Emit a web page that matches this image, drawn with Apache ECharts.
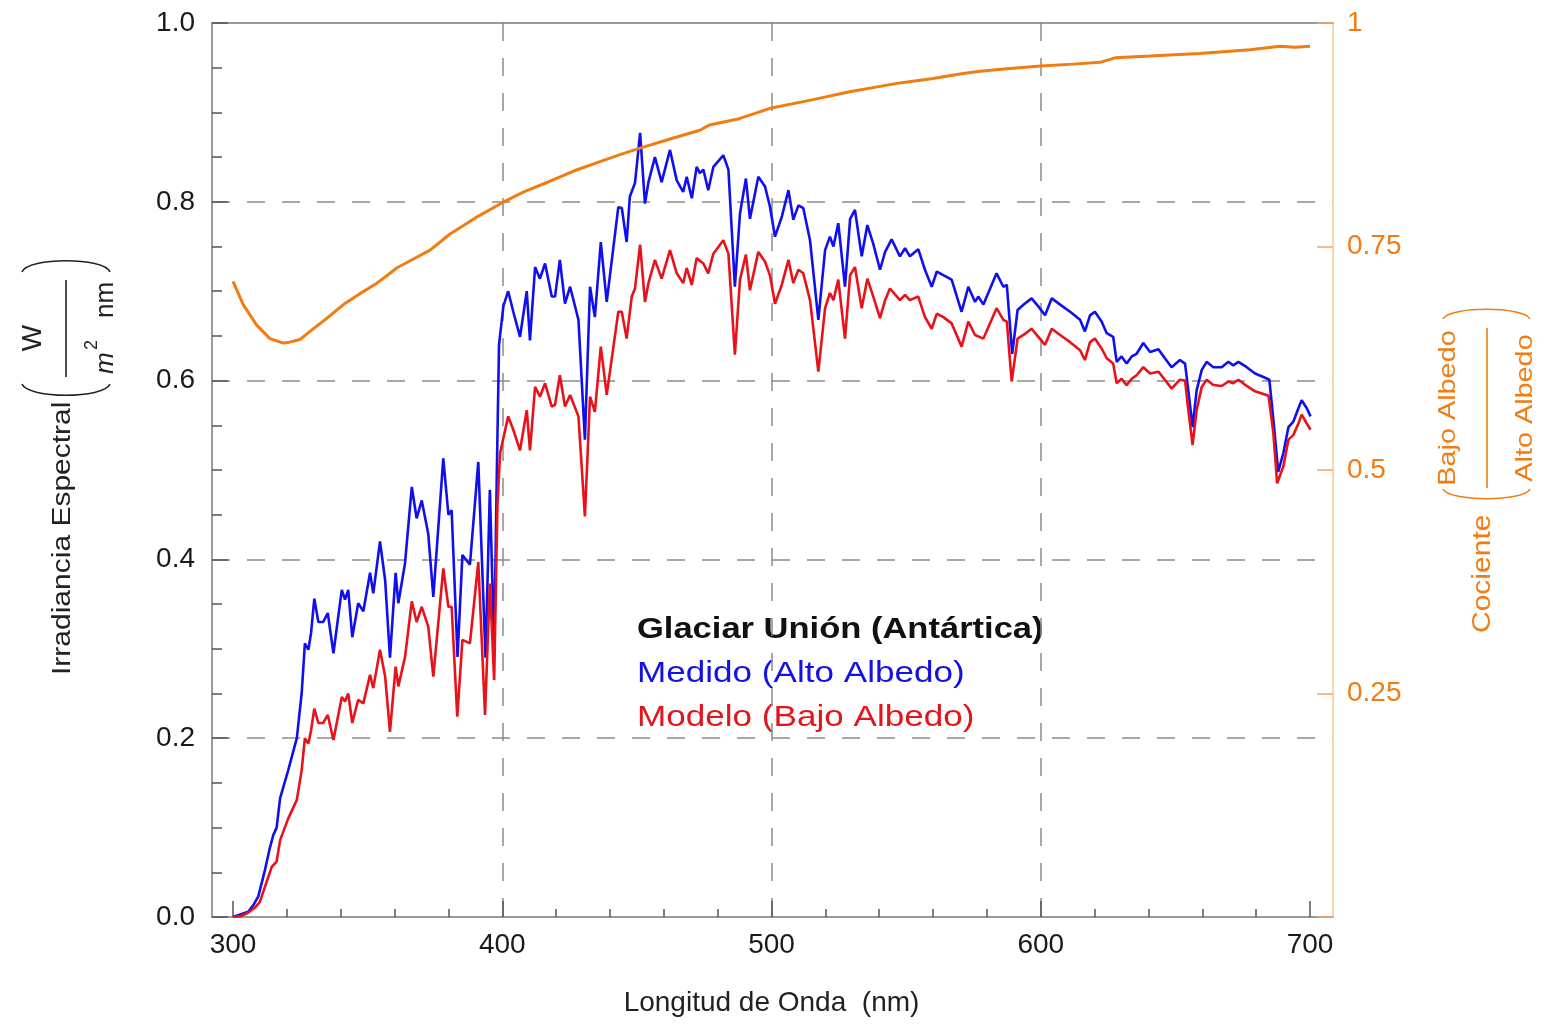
<!DOCTYPE html>
<html><head><meta charset="utf-8">
<script src="https://cdn.jsdelivr.net/npm/echarts@6.0.0/dist/echarts.min.js"></script>
<style>html,body{margin:0;padding:0;background:#fff}#c{width:1545px;height:1025px}</style>
</head><body><div id="c"></div>
<script>
// ---- data ----
const medidoNm = [300,303,305.7,307.5,309.4,311.9,313.5,315,316.2,317.5,320.5,323.7,325.5,326.7,328,329,330.2,331.7,333.5,335.2,337.3,340.4,341.6,342.8,344.3,346.5,348.4,350.9,352.1,354.6,356.5,358.3,360.4,361.4,363.9,366.4,368.2,370.1,372.5,374.4,378.1,380,381.2,383.4,385.2,388,391.1,393.8,395.4,397,398,398.8,400.4,402.2,404.1,406.6,409.1,410.3,412.2,414,415.9,418.4,419.6,421.4,423.3,425.2,428.3,430.7,432.6,434.4,436.6,438.8,443.1,444.4,446.2,447.4,449.3,451.2,453,454.3,456.7,459.2,462.3,464.8,467.2,468.5,470.4,472.2,473.4,474.7,476.5,478.4,482.1,484,486.4,488.3,490.5,492,495.1,497.6,499.4,501.3,503.8,506.3,508.1,510,511.8,514.3,517.4,519.9,521.7,523,524.8,527.3,529.2,531,533.5,535.6,537.8,540.3,542.2,544.6,547.7,549.6,551.4,554.5,557,559.5,561.4,563.8,566.9,570.6,573.1,575.6,576.8,578.7,583.6,586.1,587.4,589.4,591.4,594,596.6,599.1,601.6,604.1,607.2,610.9,614.6,616.4,618.3,620.1,622.6,624.5,626.9,628.2,630,631.9,633.8,635.6,638.1,640.6,643.7,646.1,648.6,651.7,653.6,654.8,656.4,657.9,659.8,661.6,664.1,667.2,669.7,671.5,673.4,676.5,679.6,682.7,684.9,686.4,688.2,690.1,692,693.8,695.7,696.9,698.8,700.2];
const medidoVal = [0,0.003,0.006,0.013,0.023,0.053,0.075,0.092,0.1,0.133,0.164,0.2,0.25,0.306,0.299,0.318,0.356,0.33,0.33,0.34,0.295,0.366,0.355,0.366,0.313,0.351,0.342,0.385,0.362,0.42,0.377,0.29,0.385,0.351,0.396,0.481,0.446,0.466,0.429,0.358,0.513,0.45,0.455,0.291,0.405,0.394,0.509,0.29,0.478,0.3,0.5,0.64,0.683,0.7,0.677,0.649,0.7,0.645,0.727,0.714,0.731,0.694,0.694,0.735,0.686,0.705,0.668,0.534,0.705,0.671,0.755,0.688,0.794,0.793,0.755,0.806,0.821,0.877,0.798,0.822,0.85,0.822,0.858,0.824,0.811,0.828,0.804,0.839,0.832,0.836,0.813,0.839,0.852,0.836,0.705,0.787,0.826,0.781,0.828,0.817,0.795,0.761,0.783,0.813,0.78,0.796,0.793,0.757,0.668,0.746,0.761,0.75,0.776,0.705,0.781,0.791,0.739,0.774,0.753,0.724,0.744,0.758,0.739,0.748,0.739,0.747,0.724,0.705,0.722,0.718,0.713,0.677,0.705,0.688,0.694,0.685,0.72,0.705,0.707,0.63,0.679,0.686,0.692,0.683,0.673,0.692,0.685,0.677,0.668,0.655,0.673,0.677,0.666,0.653,0.649,0.621,0.627,0.619,0.627,0.63,0.642,0.632,0.635,0.625,0.615,0.623,0.619,0.589,0.548,0.589,0.612,0.621,0.615,0.615,0.621,0.617,0.621,0.615,0.608,0.604,0.601,0.556,0.498,0.519,0.548,0.554,0.569,0.578,0.569,0.56];

const modeloNm = [300,303,305.7,308,310,312,314.4,316.2,317.5,320.5,323.7,325.5,326.7,328,329,330.2,331.7,333.5,335.2,337.3,340.4,341.6,342.8,344.3,346.5,348.4,350.9,352.1,354.6,356.5,358.3,360.4,361.4,363.9,366.4,368.2,370.1,372.5,374.4,378.1,380,381.2,383.3,385.2,388,391.1,393.6,395.4,397,398.2,399.2,402.2,404.1,406.6,409.1,410.3,412.2,414,415.9,418.4,419.6,421.4,423.3,425.2,428.3,430.7,432.6,434.4,436.6,438.8,443.1,444.4,446.2,448.1,449.3,451.2,453,454.3,456.7,459.2,462.3,464.8,467.2,468.5,470.4,472.2,474.7,476.5,478.4,482.1,484,486.4,488.3,490.5,492,495.1,497.6,499.4,501.3,503.8,506.3,508.1,510,511.8,514.3,517.4,519.9,521.7,523,524.8,527.3,529.2,531,533.5,535.6,537.8,540.3,542.2,544,547.7,549.6,551.4,554.5,557,559.5,561.4,563.8,566.9,570.6,573.1,575.6,578.7,583.6,586.1,587.4,589.2,591.4,594,596.6,599.1,601.6,604.1,607.2,610.9,614.6,616.4,618.3,620.1,622.6,624.5,626.9,628.2,630,631.9,633.8,635.6,638.1,640.6,643.7,646.1,648.6,651.7,653.6,654.8,656.4,657.9,659.8,661.6,664.1,667.2,669.7,671.5,673.4,676.5,679.6,682.7,684.6,686.4,687.8,690.1,692,693.8,695.7,696.9,698.8,700.2];
const modeloVal = [0,0.001,0.005,0.01,0.017,0.035,0.056,0.062,0.086,0.11,0.131,0.164,0.2,0.194,0.209,0.233,0.217,0.217,0.226,0.198,0.246,0.241,0.25,0.217,0.243,0.239,0.271,0.256,0.299,0.269,0.207,0.28,0.258,0.291,0.353,0.33,0.347,0.325,0.269,0.39,0.347,0.347,0.224,0.31,0.306,0.397,0.226,0.373,0.265,0.46,0.519,0.56,0.545,0.522,0.567,0.522,0.593,0.582,0.597,0.571,0.573,0.606,0.571,0.584,0.56,0.448,0.582,0.565,0.638,0.584,0.677,0.677,0.647,0.694,0.703,0.752,0.688,0.709,0.735,0.714,0.746,0.72,0.709,0.726,0.707,0.737,0.731,0.72,0.742,0.757,0.742,0.629,0.713,0.741,0.701,0.744,0.733,0.718,0.686,0.707,0.735,0.709,0.724,0.72,0.69,0.61,0.681,0.698,0.69,0.713,0.647,0.718,0.727,0.681,0.714,0.694,0.67,0.69,0.703,0.69,0.696,0.69,0.694,0.671,0.658,0.675,0.671,0.664,0.638,0.666,0.651,0.647,0.681,0.668,0.666,0.599,0.647,0.652,0.658,0.649,0.64,0.658,0.651,0.643,0.634,0.623,0.643,0.647,0.636,0.625,0.619,0.597,0.602,0.595,0.602,0.606,0.615,0.608,0.61,0.601,0.591,0.601,0.6,0.567,0.528,0.567,0.593,0.601,0.595,0.594,0.599,0.597,0.601,0.594,0.588,0.585,0.583,0.541,0.485,0.504,0.534,0.539,0.552,0.562,0.552,0.545];

const cocienteNm = [300,303.8,308.8,313.7,318.7,321,324.9,328.6,335,341,347,353.4,357,360.8,367,373.2,380.6,390,400,408,417.7,427,436.3,444,451.2,462,473.4,477,488,500,515,529,547.7,560,570,577.4,588.6,600,612,622,627.6,640.6,659,677.7,688.9,694.4,700];
const cocienteVal = [0.711,0.685,0.662,0.647,0.642,0.643,0.646,0.655,0.67,0.685,0.697,0.709,0.717,0.726,0.736,0.746,0.764,0.782,0.799,0.811,0.823,0.835,0.845,0.853,0.86,0.87,0.88,0.886,0.893,0.905,0.914,0.923,0.933,0.938,0.943,0.946,0.949,0.952,0.954,0.956,0.961,0.963,0.966,0.97,0.974,0.973,0.974];

const xTickLabels = [300, 400, 500, 600, 700];
const leftTickLabels = ['0.0','0.2','0.4','0.6','0.8','1.0'];
const rightTickLabels = ['0.25','0.5','0.75','1'];

// ---- chart ----
const FONT = "'Liberation Sans', Arial, Helvetica, sans-serif";
const GRAY = '#7a7a7a';
const ORANGE = '#f07c12';
const zip = (a, b) => a.map((v, i) => [v, b[i]]);

const chart = echarts.init(document.getElementById('c'), null, {renderer: 'canvas'});

const leftTitle = {
  type: 'group', x: 0, y: 700, rotation: Math.PI / 2,
  children: [
    {type: 'text', x: 25, y: 63, scaleX: 1.2, style: {text: 'Irradiancia Espectral', fontSize: 25, fontFamily: FONT, fill: '#222', align: 'left', verticalAlign: 'middle'}},
    {type: 'bezierCurve', shape: {x1: 316, y1: 22, cpx1: 301, cpy1: 28, cpx2: 301, cpy2: 104, x2: 316, y2: 110}, style: {stroke: '#222', lineWidth: 1.6, fill: null}},
    {type: 'bezierCurve', shape: {x1: 428, y1: 22, cpx1: 443, cpy1: 28, cpx2: 443, cpy2: 104, x2: 428, y2: 110}, style: {stroke: '#222', lineWidth: 1.6, fill: null}},
    {type: 'line', shape: {x1: 323, y1: 66, x2: 420, y2: 66}, style: {stroke: '#222', lineWidth: 1.6}},
    {type: 'text', x: 362, y: 33, style: {text: 'W', fontSize: 28, fontFamily: FONT, fill: '#222', align: 'center', verticalAlign: 'middle'}},
    {type: 'text', x: 326, y: 106, style: {text: 'm', fontSize: 26, fontFamily: FONT, fontStyle: 'italic', fill: '#222', align: 'left', verticalAlign: 'middle'}},
    {type: 'text', x: 350, y: 92, style: {text: '2', fontSize: 18, fontFamily: FONT, fill: '#222', align: 'left', verticalAlign: 'middle'}},
    {type: 'text', x: 382, y: 106, style: {text: 'nm', fontSize: 26, fontFamily: FONT, fill: '#222', align: 'left', verticalAlign: 'middle'}}
  ]
};

const rightTitle = {
  type: 'group', x: 1400, y: 700, rotation: Math.PI / 2,
  children: [
    {type: 'text', x: 67, y: 83, scaleX: 1.2, style: {text: 'Cociente', fontSize: 25, fontFamily: FONT, fill: ORANGE, align: 'left', verticalAlign: 'middle'}},
    {type: 'bezierCurve', shape: {x1: 211, y1: 43, cpx1: 198, cpy1: 49, cpx2: 198, cpy2: 124, x2: 211, y2: 130}, style: {stroke: ORANGE, lineWidth: 1.6, fill: null}},
    {type: 'bezierCurve', shape: {x1: 381, y1: 43, cpx1: 394, cpy1: 49, cpx2: 394, cpy2: 124, x2: 381, y2: 130}, style: {stroke: ORANGE, lineWidth: 1.6, fill: null}},
    {type: 'line', shape: {x1: 212, y1: 87, x2: 372, y2: 87}, style: {stroke: ORANGE, lineWidth: 1.6}},
    {type: 'text', x: 292, y: 48, scaleX: 1.2, style: {text: 'Bajo Albedo', fontSize: 24, fontFamily: FONT, fill: ORANGE, align: 'center', verticalAlign: 'middle'}},
    {type: 'text', x: 292, y: 125, scaleX: 1.2, style: {text: 'Alto Albedo', fontSize: 24, fontFamily: FONT, fill: ORANGE, align: 'center', verticalAlign: 'middle'}}
  ]
};

const notes = [
  {type: 'text', x: 637, y: 630, scaleX: 1.19, style: {text: 'Glaciar Unión (Antártica)', fontSize: 29, fontWeight: 'bold', fontFamily: FONT, fill: '#111', align: 'left', verticalAlign: 'middle'}},
  {type: 'text', x: 637, y: 674, scaleX: 1.21, style: {text: 'Medido (Alto Albedo)', fontSize: 29, fontFamily: FONT, fill: '#1212e6', align: 'left', verticalAlign: 'middle'}},
  {type: 'text', x: 637, y: 718, scaleX: 1.21, style: {text: 'Modelo (Bajo Albedo)', fontSize: 29, fontFamily: FONT, fill: '#e3141c', align: 'left', verticalAlign: 'middle'}}
];

const dash = {color: '#8c8c8c', type: [18, 17], width: 1.5};
const noZero = {onZero: false};

chart.setOption({
  animation: false,
  backgroundColor: '#fff',
  textStyle: {fontFamily: FONT},
  grid: [
    {left: 212, right: 212, top: 23, bottom: 108},
    {left: 233, right: 235, top: 23, bottom: 108}
  ],
  xAxis: [
    {gridIndex: 0, type: 'value', min: 0, max: 1, position: 'bottom',
     axisLine: {show: true, onZero: false, lineStyle: {color: GRAY, width: 1.5}}, axisTick: {show: false}, axisLabel: {show: false}, splitLine: {show: false}},
    {gridIndex: 0, type: 'value', min: 0, max: 1, position: 'top',
     axisLine: {show: true, onZero: false, lineStyle: {color: GRAY, width: 1.5}}, axisTick: {show: false}, axisLabel: {show: false}, splitLine: {show: false}},
    {gridIndex: 1, type: 'value', min: xTickLabels[0], max: xTickLabels[xTickLabels.length - 1], interval: 100, position: 'bottom',
     axisLine: {show: false, onZero: false},
     axisTick: {show: true, inside: true, length: 16, lineStyle: {color: '#555', width: 1.5}},
     minorTick: {show: true, splitNumber: 5, length: 8, lineStyle: {color: '#555', width: 1.5}},
     axisLabel: {fontSize: 28, color: '#1a1a1a', margin: 14, fontFamily: FONT},
     splitLine: {show: true, showMinLine: false, showMaxLine: false, lineStyle: dash},
     name: 'Longitud de Onda  (nm)', nameLocation: 'middle', nameGap: 72,
     nameTextStyle: {fontSize: 28, color: '#222', fontFamily: FONT}}
  ],
  yAxis: [
    {gridIndex: 0, type: 'value', position: 'left', min: 0, max: 1, interval: 0.2,
     axisLine: {show: true, onZero: false, lineStyle: {color: GRAY, width: 1.5}},
     axisTick: {show: true, inside: true, length: 16, lineStyle: {color: '#555', width: 1.5}},
     minorTick: {show: true, splitNumber: 4, length: 10, lineStyle: {color: '#555', width: 1.5}},
     axisLabel: {fontSize: 28, color: '#1a1a1a', margin: 17, fontFamily: FONT,
       formatter: v => leftTickLabels[Math.round(v / 0.2)] || ''},
     splitLine: {show: true, showMinLine: false, showMaxLine: false, lineStyle: dash}},
    {gridIndex: 0, type: 'value', position: 'right', min: 0, max: 1, interval: 0.25,
     axisLine: {show: true, onZero: false, lineStyle: {color: '#f7c996', width: 1.5}},
     axisTick: {show: true, inside: true, length: 16, lineStyle: {color: '#f2a660', width: 1.5}},
     axisLabel: {fontSize: 28, color: ORANGE, margin: 14, fontFamily: FONT,
       formatter: v => { const i = Math.round(v / 0.25); return i >= 1 ? rightTickLabels[i - 1] : ''; }},
     splitLine: {show: false}},
    {gridIndex: 1, type: 'value', min: 0, max: 1, show: false, axisLine: noZero}
  ],
  series: [
    {name: 'Medido (Alto Albedo)', type: 'line', xAxisIndex: 2, yAxisIndex: 2, data: zip(medidoNm, medidoVal),
     showSymbol: false, symbol: 'none', lineStyle: {color: '#1010ee', width: 2.6}, itemStyle: {color: '#1010ee'}, z: 3},
    {name: 'Modelo (Bajo Albedo)', type: 'line', xAxisIndex: 2, yAxisIndex: 2, data: zip(modeloNm, modeloVal),
     showSymbol: false, symbol: 'none', lineStyle: {color: '#e8121a', width: 2.6}, itemStyle: {color: '#e8121a'}, z: 3},
    {name: 'Cociente', type: 'line', xAxisIndex: 2, yAxisIndex: 2, data: zip(cocienteNm, cocienteVal),
     showSymbol: false, symbol: 'none', lineStyle: {color: ORANGE, width: 3}, itemStyle: {color: ORANGE}, z: 4}
  ],
  graphic: [leftTitle, rightTitle].concat(notes)
});
</script></body></html>
